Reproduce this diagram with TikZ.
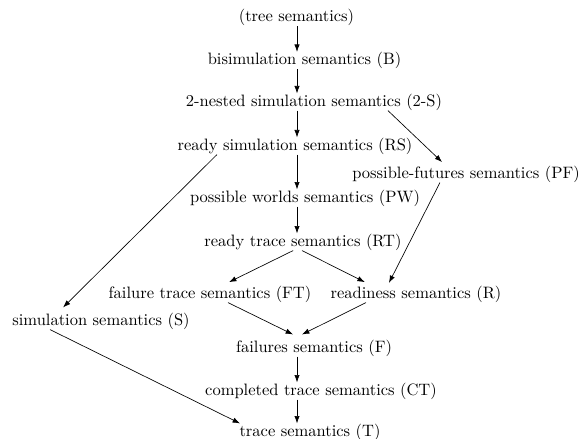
\documentclass[tikz,border=0pt]{standalone}
\usepackage{tikz}
\usetikzlibrary{arrows.meta}
\tikzstyle{sem}=[inner sep=0pt,text height=7.5pt,text depth=2.5pt]
\tikzstyle{arrow}=[->,>={Latex[length=4.5pt,width=3.2pt]}]

\begin{document}
\begin{tikzpicture}[x=0.606pt,y=-0.606pt]
        \useasboundingbox (0,0) rectangle (584,438);
        \coordinate (col) at (297,0);

        \node (tree) [sem] at (296.5,17.5) {(tree semantics)};
        \node (B) [sem] at (304.5,60.5) {bisimulation semantics (B)};
        \node (S2) [sem] at (314,102) {2-nested simulation semantics (2-S)};
        \node (RS) [sem] at (295,146) {ready simulation semantics (RS)};
        \node (PF) [sem] at (466,174) {possible-futures semantics (PF)};
        \node (PW) [sem] at (305,198) {possible worlds semantics (PW)};
        \node (RT) [sem] at (303,242) {ready trace semantics (RT)};
        \node (FT) [sem] at (210,294) {failure trace semantics (FT)};
        \node (R) [sem] at (416,294) {readiness semantics (R)};
        \node (S) [sem] at (101,321) {simulation semantics (S)};
        \node (F) [sem] at (314,348) {failures semantics (F)};
        \node (CT) [sem] at (321,391) {completed trace semantics (CT)};
        \node (T) [sem] at (310,432) {trace semantics (T)};

        % main column
        \draw [arrow] (tree.south -| col) -- (B.north -| col);
        \draw [arrow] (B.south -| col) -- (S2.north -| col);
        \draw [arrow] (S2.south -| col) -- (RS.north -| col);
        \draw [arrow] (RS.south -| col) -- (PW.north -| col);
        \draw [arrow] (PW.south -| col) -- (RT.north -| col);
        \draw [arrow] (F.south -| col) -- (CT.north -| col);
        \draw [arrow] (CT.south -| col) -- (T.north -| col);

        % side branches
        \draw [arrow] ([xshift=44.8pt]S2.south) -- ([xshift=-14.5pt,yshift=2pt]PF.north);
        \draw [arrow] ([xshift=-47.3pt]RS.south) -- ([xshift=-23pt,yshift=3pt]S.north);
        \draw [arrow] ([xshift=-30.9pt]S.south) -- ([xshift=-42.4pt]T.north);
        \draw [arrow] ([xshift=-6pt]RT.south) -- ([xshift=11.5pt,yshift=2pt]FT.north);
        \draw [arrow] ([xshift=-0.6pt]RT.south) -- ([xshift=-31pt,yshift=2pt]R.north);
        \draw [arrow] ([xshift=-15.8pt]PF.south) -- ([xshift=-16.4pt,yshift=1.5pt]R.north);
        \draw [arrow] ([xshift=10.9pt]FT.south) -- ([xshift=-12.7pt,yshift=3pt]F.north);
        \draw [arrow] ([xshift=-30.3pt]R.south) -- ([xshift=-7.3pt,yshift=3pt]F.north);

    \end{tikzpicture}
\end{document}
